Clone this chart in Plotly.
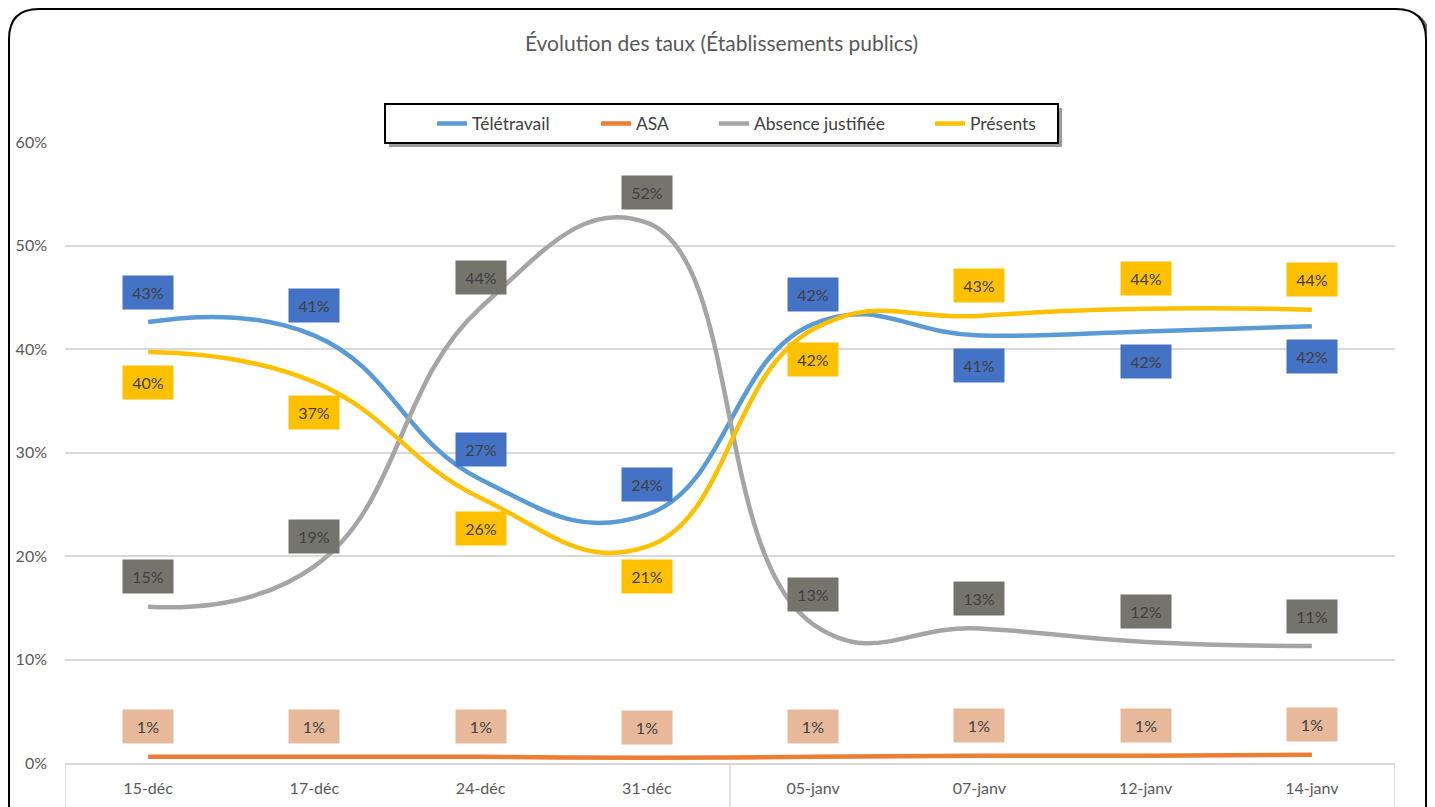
import plotly.graph_objects as go

# ---- data ----
dates = ["15-déc", "17-déc", "24-déc", "31-déc", "05-janv", "07-janv", "12-janv", "14-janv"]
teletravail = [42.6, 41.3, 27.4, 24.0, 42.4, 41.3, 41.7, 42.2]
asa = [0.6, 0.6, 0.6, 0.5, 0.6, 0.7, 0.7, 0.8]
absence = [15.1, 19.0, 44.0, 52.2, 13.4, 13.0, 11.7, 11.3]
presents = [39.7, 36.8, 25.6, 20.9, 41.9, 43.2, 43.9, 43.8]
y_tick_vals = [0, 10, 20, 30, 40, 50, 60]
y_tick_text = ["0%", "10%", "20%", "30%", "40%", "50%", "60%"]
title_text = "Évolution des taux (Établissements publics)"

# ---- styles ----
series = [
    ("Télétravail", teletravail, "#5B9BD5", "#4472C4", [1, 1, 1, 1, 1, -1, -1, -1]),
    ("ASA", asa, "#ED7D31", "#E7B99A", [1] * 8),
    ("Absence justifiée", absence, "#A5A5A5", "#74746D", [1] * 8),
    ("Présents", presents, "#FFC000", "#FFC000", [-1, -1, -1, -1, -1, 1, 1, 1]),
]
legend_left_px = [432, 596, 714, 930]   # page x of each legend entry
FONT = "Lato"
TXT = "#595959"

# figure sits at page offset (8, 8) because of the default body margin
OFF = 8
W, H = 1435 - OFF, 807 - OFF
L, R, T, B = 65 - OFF, 1435 - 1395, 142 - OFF, 807 - 763
pw, ph = W - L - R, H - T - B


def px_x(px):
    return (px - OFF - L) / pw


def px_y(py):
    return (H - B - (py - OFF)) / ph


fig = go.Figure()
annotations = []
legends = {}
for i, (name, vals, color, lab_bg, pos) in enumerate(series):
    lg = "legend" if i == 0 else f"legend{i + 1}"
    fig.add_trace(go.Scatter(
        x=dates, y=vals, name=name, mode="lines", legend=lg,
        line=dict(color=color, width=4.5, shape="spline", smoothing=1.3),
        hoverinfo="skip",
    ))
    legends[lg] = dict(
        orientation="h", x=px_x(legend_left_px[i]), xanchor="left",
        y=px_y(123.5), yanchor="middle", bgcolor="rgba(0,0,0,0)", borderwidth=0,
        font=dict(family=FONT, size=17.5, color="#404040"), itemwidth=30,
    )
    for d, v, p in zip(dates, vals, pos):
        annotations.append(dict(
            x=d, y=v, xref="x", yref="y", text=f"{int(v + 0.5)}%",
            showarrow=False, yshift=30 * p, bgcolor=lab_bg,
            width=48, height=31, font=dict(family=FONT, size=16, color="#404040"),
        ))


def rounded_path(x0, y0, x1, y1, r):
    pts = [
        f"M {px_x(x0 + r)},{px_y(y0)}",
        f"L {px_x(x1 - r)},{px_y(y0)}",
        f"Q {px_x(x1)},{px_y(y0)} {px_x(x1)},{px_y(y0 + r)}",
        f"L {px_x(x1)},{px_y(y1 - r)}",
        f"Q {px_x(x1)},{px_y(y1)} {px_x(x1 - r)},{px_y(y1)}",
        f"L {px_x(x0 + r)},{px_y(y1)}",
        f"Q {px_x(x0)},{px_y(y1)} {px_x(x0)},{px_y(y1 - r)}",
        f"L {px_x(x0)},{px_y(y0 + r)}",
        f"Q {px_x(x0)},{px_y(y0)} {px_x(x0 + r)},{px_y(y0)} Z",
    ]
    return " ".join(pts)


shapes = [
    # outer chart border with shadow
    dict(type="path", xref="paper", yref="paper", path=rounded_path(12, 12, 1429, 840, 30),
         line=dict(color="#6F6F6F", width=3), layer="below"),
    dict(type="path", xref="paper", yref="paper", path=rounded_path(9, 9, 1426, 837, 30),
         line=dict(color="black", width=2), fillcolor="white", layer="below"),
    # legend box with shadow
    dict(type="rect", xref="paper", yref="paper", x0=px_x(389), x1=px_x(1062),
         y0=px_y(147), y1=px_y(108), line=dict(width=0), fillcolor="#9A9A9A", layer="above"),
    dict(type="rect", xref="paper", yref="paper", x0=px_x(385), x1=px_x(1058),
         y0=px_y(143), y1=px_y(104), line=dict(width=2, color="black"), fillcolor="white",
         layer="above"),
]
# category group separators below x axis
for xs in [-0.5, 3.5, 7.5]:
    shapes.append(dict(type="line", xref="x", yref="paper", x0=xs, x1=xs, y0=0, y1=-0.12,
                       line=dict(color="#D9D9D9", width=1.5)))

fig.update_layout(
    width=W, height=H,
    margin=dict(l=L, r=R, t=T, b=B, autoexpand=False),
    paper_bgcolor="rgba(0,0,0,0)", plot_bgcolor="white",
    font=dict(family=FONT, size=16, color=TXT),
    title=dict(text=title_text, x=0.5, xanchor="center", y=1 - (44 - OFF) / H, yanchor="middle",
               font=dict(family=FONT, size=21, color=TXT)),
    xaxis=dict(type="category", range=[-0.5, 7.5], showgrid=False, zeroline=False,
               showline=True, linecolor="#D9D9D9", linewidth=1.5, ticks="",
               tickfont=dict(family=FONT, size=16, color=TXT), ticklabelstandoff=10,
               fixedrange=True),
    yaxis=dict(range=[0, 60], tickvals=y_tick_vals, ticktext=y_tick_text, showgrid=True,
               gridcolor="#D9D9D9", gridwidth=1.5, zeroline=False, showline=False,
               tickfont=dict(family=FONT, size=16, color=TXT), ticklabelstandoff=17,
               fixedrange=True),
    annotations=annotations,
    shapes=shapes,
    showlegend=True,
    **legends,
)

fig.write_html("out.html")
